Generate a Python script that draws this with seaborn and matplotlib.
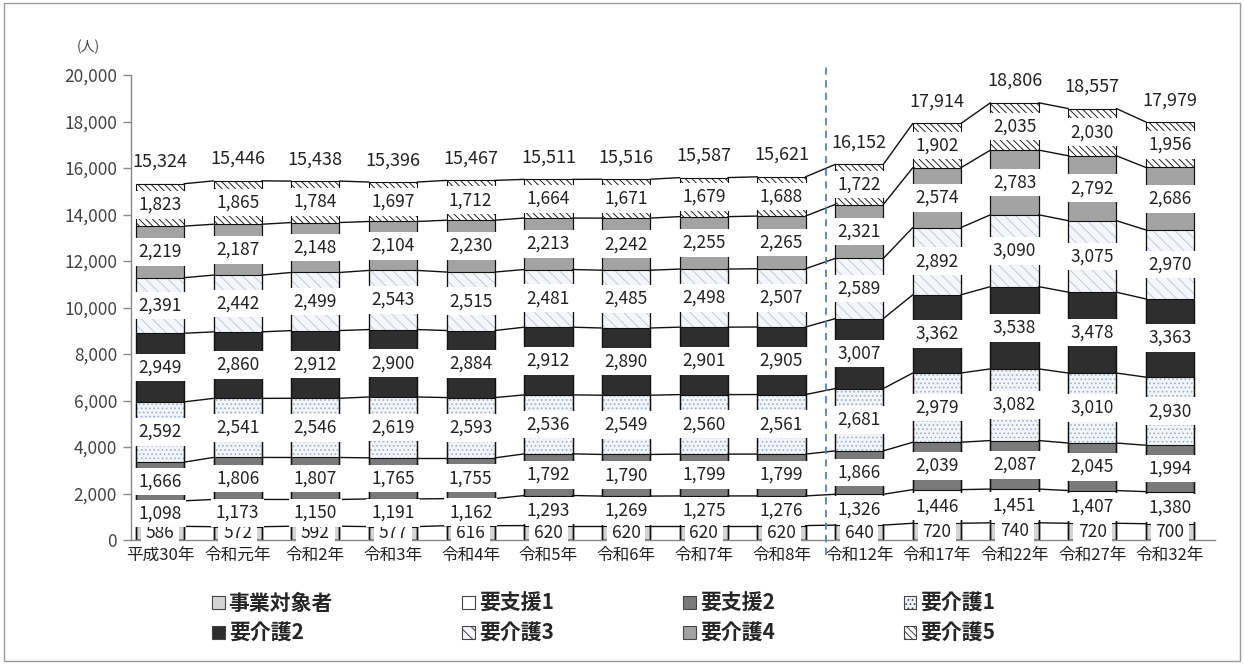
import matplotlib
matplotlib.use('Agg')
import matplotlib.pyplot as plt
import seaborn as sns
import numpy as np
from matplotlib.patches import Patch, Rectangle

categories = ['平成30年', '令和元年', '令和2年', '令和3年', '令和4年', '令和5年', '令和6年',
              '令和7年', '令和8年', '令和12年', '令和17年', '令和22年', '令和27年', '令和32年']
jigyo  = [586, 572, 592, 577, 616, 620, 620, 620, 620, 640, 720, 740, 720, 700]
shien1 = [1098, 1173, 1150, 1191, 1162, 1293, 1269, 1275, 1276, 1326, 1446, 1451, 1407, 1380]
shien2 = [1666, 1806, 1807, 1765, 1755, 1792, 1790, 1799, 1799, 1866, 2039, 2087, 2045, 1994]
kaigo1 = [2592, 2541, 2546, 2619, 2593, 2536, 2549, 2560, 2561, 2681, 2979, 3082, 3010, 2930]
kaigo2 = [2949, 2860, 2912, 2900, 2884, 2912, 2890, 2901, 2905, 3007, 3362, 3538, 3478, 3363]
kaigo3 = [2391, 2442, 2499, 2543, 2515, 2481, 2485, 2498, 2507, 2589, 2892, 3090, 3075, 2970]
kaigo4 = [2219, 2187, 2148, 2104, 2230, 2213, 2242, 2255, 2265, 2321, 2574, 2783, 2792, 2686]
kaigo5 = [1823, 1865, 1784, 1697, 1712, 1664, 1671, 1679, 1688, 1722, 1902, 2035, 2030, 1956]

series_names = ['事業対象者', '要支援1', '要支援2', '要介護1', '要介護2', '要介護3', '要介護4', '要介護5']
series_values = [jigyo, shien1, shien2, kaigo1, kaigo2, kaigo3, kaigo4, kaigo5]
yticks = list(range(0, 20001, 2000))

styles = [
    dict(face='#d4d4d4', hatch=None, hc='#d4d4d4'),
    dict(face='#ffffff', hatch=None, hc='#ffffff'),
    dict(face='#7a7a7a', hatch=None, hc='#7a7a7a'),
    dict(face='#f1f4f9', hatch='....', hc='#a4afc6'),
    dict(face='#2e2e2e', hatch=None, hc='#2e2e2e'),
    dict(face='#f4f6fa', hatch='\\\\\\', hc='#c3cad8'),
    dict(face='#a3a3a3', hatch=None, hc='#a3a3a3'),
    dict(face='#ffffff', hatch='\\\\\\\\\\', hc='#222222'),
]

sns.set_theme(style='white')
plt.rcParams['font.family'] = ['Noto Sans CJK JP', 'DejaVu Sans']
plt.rcParams['hatch.linewidth'] = 0.7

fig = plt.figure(figsize=(12.44, 6.64), dpi=100)
ax = fig.add_axes([131 / 1244, 124 / 664, (1215 - 131) / 1244, (540 - 75) / 664])

vals = np.array(series_values)
cum = np.cumsum(vals, axis=0)
n = len(categories)
W = 0.62

for k in range(7, -1, -1):
    st = styles[k]
    sns.barplot(x=categories, y=cum[k], color=st['face'], saturation=1, width=W,
                errorbar=None, hatch=st['hatch'], edgecolor=st['hc'], linewidth=0, ax=ax)

for k in range(8):
    sns.barplot(x=categories, y=cum[k], color='#111111', saturation=1, width=W,
                errorbar=None, facecolor='none', edgecolor='#111111', linewidth=0.8, ax=ax)

# series connector lines
for k in range(8):
    for i in range(n - 1):
        ax.plot([i + W / 2, i + 1 - W / 2], [cum[k][i], cum[k][i + 1]],
                color='#111111', lw=1.0, zorder=3)

# segment labels
for k in range(8):
    for i in range(n):
        mid = cum[k][i] - vals[k][i] / 2
        ax.text(i, mid, f'{vals[k][i]:,}', ha='center', va='center', fontsize=12.5,
                color='#222222', zorder=5,
                bbox=dict(boxstyle='square,pad=0.28', fc='white', ec='none'))

# totals
tot = cum[-1]
for i in range(n):
    ax.text(i, tot[i] + 550, f'{tot[i]:,}', ha='center', va='bottom', fontsize=13,
            color='#222222')

ax.set_xlim(-0.373, 13.58)
ax.set_ylim(0, 20000)
ax.set_yticks(yticks)
ax.set_yticklabels([f'{v:,}' for v in yticks])
ax.tick_params(axis='y', direction='out', length=6, color='#888888', width=1,
               labelsize=12.5, labelcolor='#444444', pad=4, left=True)
ax.tick_params(axis='x', length=0, labelsize=12, labelcolor='#222222', pad=5)
ax.set_xlabel('')
ax.set_ylabel('')
for s in ['top', 'right']:
    ax.spines[s].set_visible(False)
for s in ['left', 'bottom']:
    ax.spines[s].set_color('#888888')
    ax.spines[s].set_linewidth(1)

ax.plot([8.57, 8.57], [-0.032, 1.022], transform=ax.get_xaxis_transform(),
        ls='--', dashes=(4, 3), color='#5a7fb8', lw=1.3, clip_on=False, zorder=6)

fig.text(88 / 1244, 1 - 47 / 664, '(人)', fontsize=10, ha='center', va='center',
         color='#444444')

fig.patches.append(Rectangle((0.003, 0.005), 0.994, 0.99, transform=fig.transFigure,
                             fill=False, ec='#9a9a9a', lw=1))

handles = [Patch(facecolor=st['face'], hatch=st['hatch'], edgecolor='#444444', lw=0.8)
           for st in styles]
order = [0, 4, 1, 5, 2, 6, 3, 7]
fig.legend([handles[j] for j in order], [series_names[j] for j in order], ncol=4,
           loc='upper left', bbox_to_anchor=(212 / 1244, 1 - 593 / 664), frameon=False,
           prop={'size': 15, 'weight': 'bold'}, handlelength=0.6, handleheight=0.6,
           handletextpad=0.2, columnspacing=6.2, labelspacing=0.42, borderaxespad=0,
           borderpad=0)

fig.savefig('out.png', dpi=100)
